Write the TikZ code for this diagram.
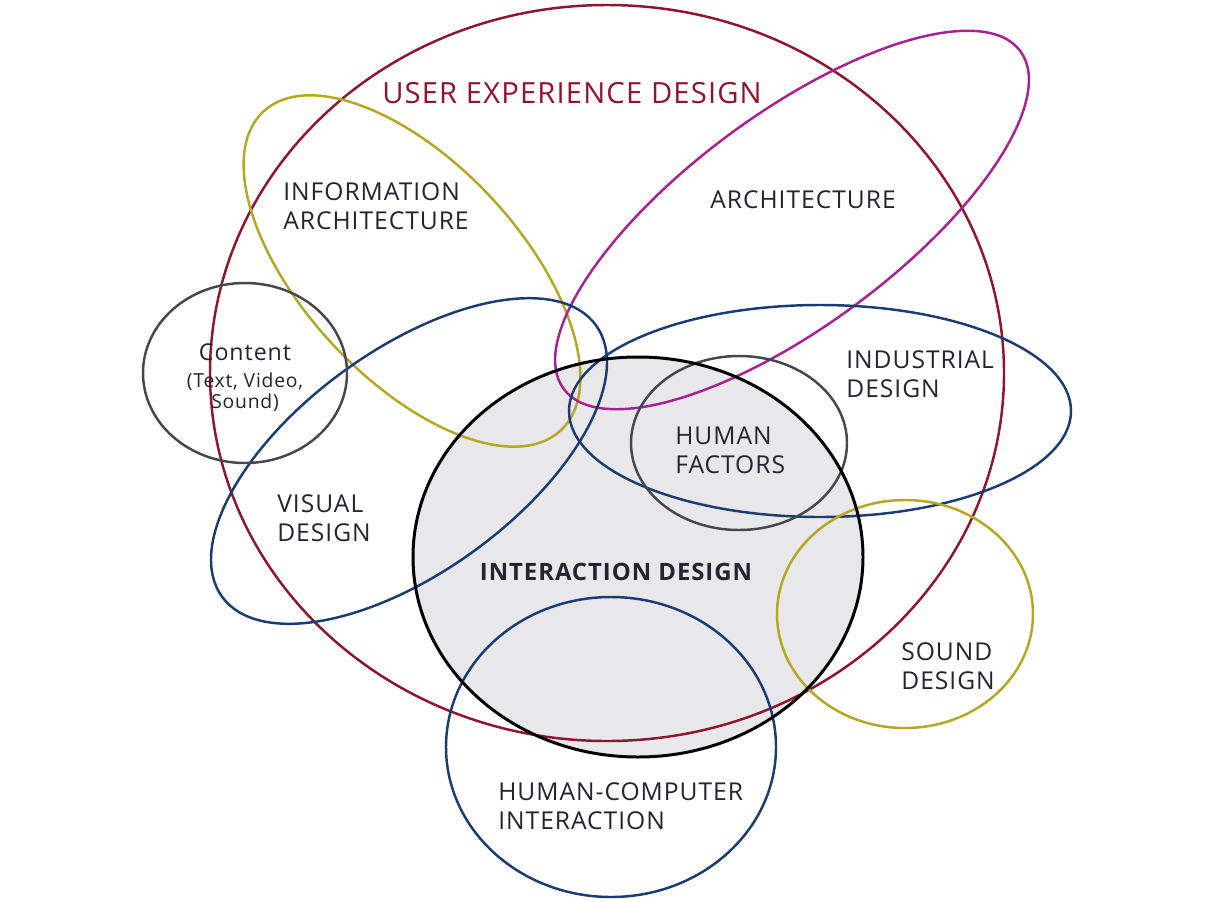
\documentclass[tikz,border=0pt]{standalone}
\usepackage{fontspec}
\setmainfont{Open Sans}[LetterSpace=4.0]
\usetikzlibrary{positioning}
\definecolor{uxred}{RGB}{145,20,45}
\definecolor{softolive}{RGB}{182,166,32}
\definecolor{softmagenta}{RGB}{168,32,148}
\definecolor{deepblue}{RGB}{25,60,115}
\definecolor{ringgray}{RGB}{70,70,80}
\definecolor{ixdfill}{RGB}{232,232,235}
\definecolor{labelink}{RGB}{35,35,50}
\tikzset{
  every node/.style={font=\rmfamily, text=labelink},
  ring/.style={line width=1.4pt},
  field/.style={inner sep=0pt, align=left, anchor=west,
    font=\fontsize{14}{16.4}\selectfont},
  center field/.style={field, align=center, anchor=center}
}

\begin{document}
\begin{tikzpicture}[x=0.02cm, y=-0.02cm, line cap=round, line join=round]
  \useasboundingbox (0,0) rectangle (1230,900);

  % interaction design area under all rings
  \fill[ixdfill] (638,557) ellipse [x radius=225, y radius=200];

  \draw[ring, uxred] (607,373) ellipse [x radius=397, y radius=368];
  \draw[ring, softolive] (412,271) ellipse [x radius=218, y radius=108, rotate=-47];
  \draw[ring, softmagenta] (792,220) ellipse [x radius=284, y radius=106, rotate=36.5];
  \draw[ring, deepblue] (409,461) ellipse [x radius=231, y radius=111, rotate=36];
  \draw[ring, deepblue] (820,411) ellipse [x radius=251, y radius=106];
  \draw[ring, ringgray] (245,373) ellipse [x radius=102, y radius=90];
  \draw[ring, ringgray] (739,443) ellipse [x radius=108, y radius=87];
  \draw[ring, softolive] (905,614) ellipse [x radius=128, y radius=114];
  \draw[ring, deepblue] (611,747) ellipse [x radius=165, y radius=150];
  \draw[ring, black, line width=1.7pt] (638,557) ellipse [x radius=225, y radius=200];

  \node[center field, text=uxred, font=\fontsize{16.6}{19}\selectfont]
    (uxd) at (572,93) {USER EXPERIENCE DESIGN};
  \node[field] (ia) at (283,206.5) {INFORMATION\\ARCHITECTURE};
  \node[field] (arch) at (710,200) {ARCHITECTURE};
  \node[center field, font=\fontsize{13.2}{16}\selectfont]
    (content) at (245,352) {Content};
  \node[center field, font=\fontsize{11}{12.2}\selectfont,
    below=6.5pt of content] (media) {(Text, Video,\\Sound)};
  \node[field] (ind) at (846,374.5) {INDUSTRIAL\\DESIGN};
  \node[field] (hf) at (675,450.5) {HUMAN\\FACTORS};
  \node[field] (vis) at (277,518.5) {VISUAL\\DESIGN};
  \node[center field, font=\fontsize{13.6}{16}\bfseries\selectfont]
    (ixd) at (616,572) {INTERACTION DESIGN};
  \node[field] (sound) at (901,666.5) {SOUND\\DESIGN};
  \node[field] (hci) at (498,806) {HUMAN-COMPUTER\\INTERACTION};
\end{tikzpicture}
\end{document}
